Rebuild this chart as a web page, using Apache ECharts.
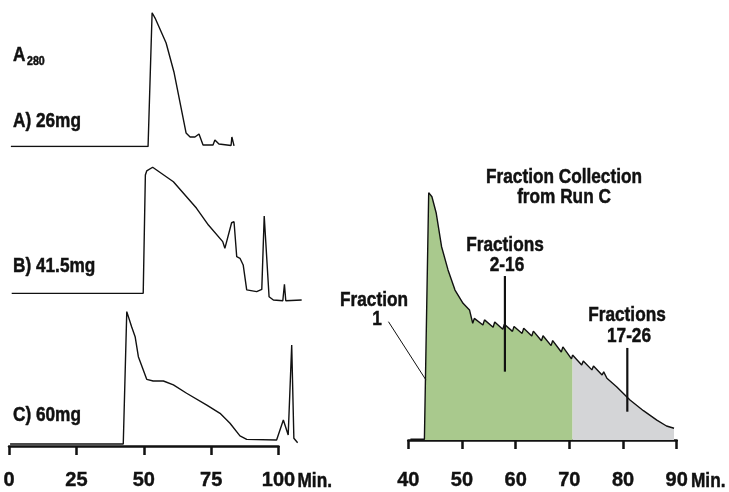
<!DOCTYPE html>
<html>
<head>
<meta charset="utf-8">
<script src="https://cdn.jsdelivr.net/npm/echarts@6/dist/echarts.min.js"></script>
<style>
html,body{margin:0;padding:0;background:#fff;}
#chart{width:729px;height:492px;}
</style>
</head>
<body>
<div id="chart"></div>
<script>
// ---------- data (minutes, relative A280) ----------
const leftTicks = [0, 25, 50, 75, 100];
const rightTicks = [40, 50, 60, 70, 80, 90];

const runATime = [0.7, 51.6, 53.1, 54.2, 58.3, 61.2, 65.7, 67.2, 69.0, 70.5, 72.0, 75.7, 76.4, 77.9, 82.4, 82.7, 83.5];
const runAAbs  = [0, 0, 98.0, 94.1, 75.8, 54.6, 9.9, 7.0, 7.0, 9.2, 1.1, 1.1, 4.8, 1.8, 0.7, 7.0, 0.4];

const runBTime = [1.0, 49.8, 50.6, 51.1, 53.3, 61.0, 69.6, 74.0, 79.3, 80.1, 82.6, 83.5, 84.5, 85.7, 86.9, 88.2, 88.8, 91.9, 93.8, 94.4, 94.7, 96.5, 98.1, 101.6, 102.2, 102.7, 108.6];
const runBAbs  = [6.1, 6.1, 89.4, 92.3, 94.9, 84.7, 66.0, 54.2, 42.5, 37.8, 55.8, 56.5, 31.9, 30.8, 26.1, 8.5, 7.3, 7.3, 8.9, 10.1, 60.6, 3.7, 1.4, 0.9, 12.5, 0.9, 1.4];

const runCTime = [0.4, 42.4, 43.7, 45.5, 46.8, 48.0, 51.1, 53.5, 57.3, 61.0, 65.9, 73.4, 78.3, 82.0, 85.7, 88.2, 99.3, 101.8, 103.6, 104.9, 105.7, 107.1];
const runCAbs  = [1.5, 1.5, 98.8, 87.7, 80.4, 65.7, 49.0, 47.8, 47.8, 44.9, 38.8, 30.1, 24.0, 16.7, 7.4, 4.9, 4.4, 19.1, 8.1, 74.3, 5.7, 2.4];

const fracTime = [40.4, 43.0, 43.8, 44.4, 45.2, 46.2, 47.4, 48.7, 50.2, 51.4, 52.0, 52.3, 53.9, 54.2, 55.8, 56.1, 57.6, 57.9, 59.4, 59.7, 61.2, 61.5, 63.0, 63.3, 64.8, 65.1, 66.6, 66.9, 68.5, 68.8, 70.4, 70.6, 72.3, 72.6, 74.2, 74.5, 76.1, 76.4, 77.0, 78.8, 81.3, 83.8, 86.3, 88.1, 89.5];
const fracAbs  = [0.3, 0.3, 97.0, 95.4, 89.0, 75.8, 66.7, 58.8, 53.6, 51.0, 45.8, 47.7, 45.1, 47.1, 44.2, 46.3, 43.4, 45.4, 42.6, 44.5, 41.8, 43.8, 40.8, 42.7, 38.9, 40.9, 37.0, 39.0, 34.5, 36.5, 31.8, 33.3, 29.4, 31.0, 27.5, 29.0, 25.5, 26.7, 24.2, 20.9, 15.7, 11.5, 7.8, 5.5, 4.6];

const fraction1Start = 43.0;   // start of collected peak
const fractionSplit = 70.6;    // end of fractions 2-16 / start of 17-26

// leader line endpoints in data units (min, signal)
const leader216 = [[58.0, 64.3], [58.0, 26.8]];
const leader1726 = [[80.8, 36.1], [80.8, 11.1]];
const leader1 = [[36.3, 46.4], [43.3, 23.5]];

// ---------- build ----------
const pairs = (t, v) => t.map((x, i) => [x, v[i]]);
const fracPairs = pairs(fracTime, fracAbs);
const greenPairs = fracPairs.filter(p => p[0] >= fraction1Start && p[0] <= fractionSplit);
const grayPairs = fracPairs.filter(p => p[0] >= fractionSplit);

const FONT = "'Liberation Sans', Arial, sans-serif";
const lbl = (text, x, y, align, size, sx) => ({
  type: 'text', x: x, y: y, scaleX: sx || 0.82, scaleY: 1,
  style: { text: text, x: 0, y: 0, font: 'bold ' + (size || 21) + 'px ' + FONT, fill: '#111',
           stroke: '#111', lineWidth: 0.5,
           textAlign: align || 'left', textVerticalAlign: 'middle' }
});

const LEFT_SPAN = 115;           // hidden curve axes run a little past the 100 min tick
const PX_PER_MIN_L = 269.5 / 100;

const hiddenX = (gi, max) => ({ gridIndex: gi, type: 'value', min: 0, max: max, show: false });
const hiddenY = (gi) => ({ gridIndex: gi, type: 'value', min: 0, max: 100, show: false });

const visAxisCommon = {
  axisLine: { show: true, lineStyle: { color: '#111', width: 2.5 } },
  axisTick: { show: true, length: 9, lineStyle: { color: '#111', width: 2.5 } },
  axisLabel: { show: true, color: '#111', fontSize: 20, fontWeight: 'bold', fontFamily: FONT, margin: 10,
               textBorderColor: '#111', textBorderWidth: 0.4 },
  splitLine: { show: false }
};

const curve = (xi, data, extra) => Object.assign({
  type: 'line', xAxisIndex: xi, yAxisIndex: xi, data: data,
  symbol: 'none', silent: true, animation: false,
  lineStyle: { color: '#111', width: 1.4 }
}, extra || {});

const wideW = LEFT_SPAN * PX_PER_MIN_L;

const option = {
  animation: false,
  backgroundColor: '#fff',
  grid: [
    { left: 9, width: wideW, top: 10, height: 136.5 },
    { left: 9, width: wideW, top: 160, height: 142 },
    { left: 9, width: wideW, top: 310, height: 136 },
    { left: 408.3, width: 268.4, top: 185, height: 255 },
    { left: 9, width: 269.5, top: 310, height: 136 }
  ],
  xAxis: [
    hiddenX(0, LEFT_SPAN), hiddenX(1, LEFT_SPAN), hiddenX(2, LEFT_SPAN),
    Object.assign({ gridIndex: 3, type: 'value', min: rightTicks[0], max: rightTicks[rightTicks.length - 1],
      interval: rightTicks[1] - rightTicks[0], position: 'bottom', offset: 20.5 }, visAxisCommon),
    Object.assign({ gridIndex: 4, type: 'value', min: leftTicks[0], max: leftTicks[leftTicks.length - 1],
      interval: leftTicks[1] - leftTicks[0], position: 'bottom', offset: 14.5 }, visAxisCommon)
  ],
  yAxis: [hiddenY(0), hiddenY(1), hiddenY(2), hiddenY(3), hiddenY(4)],
  series: [
    curve(0, pairs(runATime, runAAbs)),
    curve(1, pairs(runBTime, runBAbs)),
    curve(2, pairs(runCTime, runCAbs)),
    curve(3, greenPairs, { lineStyle: { width: 0, opacity: 0 }, areaStyle: { color: '#a9c98d', opacity: 1 }, z: 1 }),
    curve(3, grayPairs, { lineStyle: { width: 0, opacity: 0 }, areaStyle: { color: '#d4d5d7', opacity: 1 }, z: 1 }),
    curve(3, fracPairs, { z: 3 })
  ],
  graphic: [
    lbl('A', 13, 55),
    lbl('280', 27, 61.5, 'left', 12.5, 0.85),
    lbl('A) 26mg', 13, 121),
    lbl('B) 41.5mg', 13, 266),
    lbl('C) 60mg', 13, 415),
    lbl('Fraction Collection', 564, 177, 'center'),
    lbl('from Run C', 564, 197, 'center'),
    lbl('Fractions', 505, 245, 'center'),
    lbl('2-16', 507, 265, 'center'),
    lbl('Fractions', 627, 315, 'center'),
    lbl('17-26', 629, 336, 'center'),
    lbl('Fraction', 374, 300, 'center'),
    lbl('1', 377, 319, 'center'),
    lbl('Min.', 297.5, 481),
    lbl('Min.', 691, 481)
  ]
};

const chart = echarts.init(document.getElementById('chart'), null, { renderer: 'canvas' });
chart.setOption(option);

// leader lines: data coords -> pixels through the right panel's axes
const toPx = (p) => chart.convertToPixel({ gridIndex: 3 }, p);
const leaderLine = (seg, w) => {
  const a = toPx(seg[0]), b = toPx(seg[1]);
  return { type: 'line', z: 10, shape: { x1: a[0], y1: a[1], x2: b[0], y2: b[1] },
           style: { stroke: '#111', lineWidth: w } };
};
chart.setOption({
  graphic: option.graphic.concat([
    leaderLine(leader216, 2.2),
    leaderLine(leader1726, 2.2),
    leaderLine(leader1, 1)
  ])
});
</script>
</body>
</html>
